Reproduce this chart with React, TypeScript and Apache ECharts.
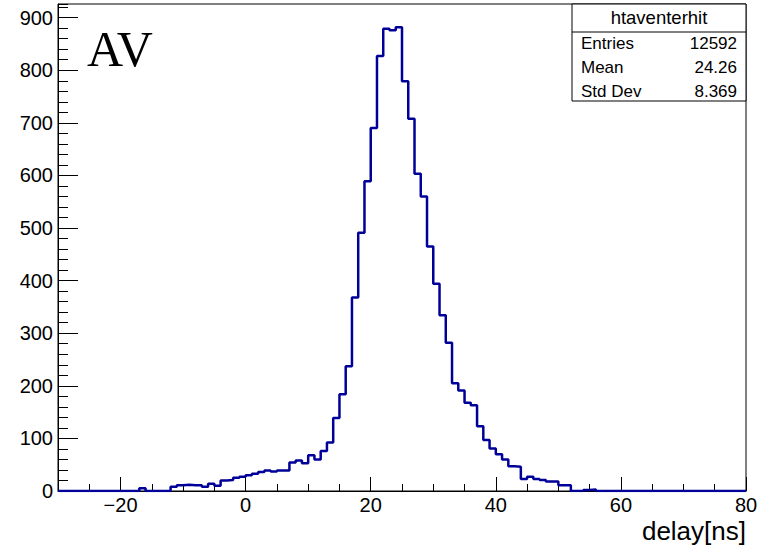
import React, { useEffect, useRef } from "react";
import * as echarts from "echarts";

// Histogram definition: 110 bins of 1 ns from -30 to 80
const xMin = -30;
const xMax = 80;
const binWidth = 1;
const counts = [
  // -30 .. -21
  0, 0, 0, 0, 0, 0, 0, 0, 0, 0,
  // -20 .. -11
  0, 0, 0, 5, 0, 0, 0, 0, 8, 11,
  // -10 .. -1
  12, 11, 11, 8, 14, 10, 20, 21, 25, 27,
  // 0 .. 9
  30, 33, 36, 39, 37, 39, 39, 54, 58, 53,
  // 10 .. 19
  68, 60, 76, 92, 139, 184, 237, 368, 491, 589,
  // 20 .. 29
  690, 827, 879, 876, 882, 779, 708, 603, 560, 465,
  // 30 .. 39
  394, 334, 282, 205, 191, 168, 163, 123, 97, 81,
  // 40 .. 49
  70, 60, 47, 46, 23, 27, 23, 21, 18, 18,
  // 50 .. 59
  11, 11, 0, 0, 2, 3, 0, 0, 0, 0,
  // 60 .. 69
  0, 0, 0, 0, 0, 0, 0, 0, 0, 0,
  // 70 .. 79
  0, 0, 0, 0, 0, 0, 0, 0, 0, 0,
];
const yMax = 926;
const xMajorTicks = [-20, 0, 20, 40, 60, 80];
const yMajorTicks = [0, 100, 200, 300, 400, 500, 600, 700, 800, 900];
const histName = "htaventerhit";
const statLabels = ["Entries", "Mean", "Std Dev"];
const statValues = ["12592", "24.26", "8.369"];
const xTitle = "delay[ns]";
const panelLabel = "AV";

export default function App() {
  const ref = useRef<HTMLDivElement>(null);
  useEffect(() => {
    if (!ref.current) return;
    const chart = echarts.init(ref.current, null, { renderer: "svg" });
    const data: number[][] = counts.map((c, i) => [xMin + i * binWidth, c]);
    data.push([xMin + counts.length * binWidth, counts[counts.length - 1]]);
    const font = "Liberation Sans";
    const gridPos = { left: 58, right: 15, top: 4, bottom: 60 };
    const statRows: any[] = [];
    statLabels.forEach((l, i) => {
      statRows.push({
        type: "text",
        left: 581,
        top: 35 + i * 24,
        style: { text: l, fontSize: 17, fontFamily: font, fill: "#000" },
      });
      statRows.push({
        type: "text",
        right: 761 - 737,
        top: 35 + i * 24,
        style: { text: statValues[i], fontSize: 17, fontFamily: font, fill: "#000", textAlign: "right" },
      });
    });
    chart.setOption({
      animation: false,
      backgroundColor: "#fff",
      grid: [
        { ...gridPos, show: true, borderColor: "#000", borderWidth: 1, backgroundColor: "transparent" },
        { ...gridPos, show: false },
      ],
      xAxis: [
        {
          gridIndex: 0,
          type: "value",
          min: xMin,
          max: xMax,
          position: "bottom",
          axisLine: { show: true, onZero: false, lineStyle: { color: "#000", width: 1 } },
          axisTick: { show: true, inside: true, length: 14, customValues: xMajorTicks, lineStyle: { color: "#000" } },
          axisLabel: {
            customValues: xMajorTicks,
            formatter: (v: number) => (v < 0 ? "\u2212" + Math.abs(v) : String(v)),
            color: "#000",
            fontSize: 20,
            fontFamily: font,
            margin: 4,
          },
          splitLine: { show: false },
        },
        {
          gridIndex: 1,
          type: "value",
          min: xMin,
          max: xMax,
          interval: 5,
          position: "bottom",
          axisLine: { show: false, onZero: false },
          axisTick: { show: true, inside: true, length: 7, lineStyle: { color: "#000" } },
          axisLabel: { show: false },
          splitLine: { show: false },
        },
      ],
      yAxis: [
        {
          gridIndex: 0,
          type: "value",
          min: 0,
          max: yMax,
          position: "left",
          axisLine: { show: true, onZero: false, lineStyle: { color: "#000", width: 1 } },
          axisTick: { show: true, inside: true, length: 20, customValues: yMajorTicks, lineStyle: { color: "#000" } },
          axisLabel: {
            customValues: yMajorTicks,
            color: "#000",
            fontSize: 20,
            fontFamily: font,
            margin: 5,
          },
          splitLine: { show: false },
        },
        {
          gridIndex: 1,
          type: "value",
          min: 0,
          max: yMax,
          interval: 20,
          position: "left",
          axisLine: { show: false, onZero: false },
          axisTick: { show: true, inside: true, length: 10, lineStyle: { color: "#000" } },
          axisLabel: { show: false },
          splitLine: { show: false },
        },
      ],
      series: [
        {
          type: "line",
          name: histName,
          xAxisIndex: 0,
          yAxisIndex: 0,
          data,
          step: "end",
          symbol: "none",
          lineStyle: { color: "#000099", width: 2.5 },
          clip: true,
          z: 5,
        },
      ],
      graphic: [
        {
          type: "text",
          left: 87,
          top: 24,
          style: { text: panelLabel, fontSize: 50, fontFamily: "Liberation Serif", fill: "#000" },
          z: 10,
        },
        {
          type: "rect",
          shape: { x: 572, y: 4, width: 174, height: 97 },
          style: { fill: "#fff", stroke: "#000", lineWidth: 1 },
          z: 10,
        },
        {
          type: "line",
          shape: { x1: 572, y1: 32, x2: 746, y2: 32 },
          style: { stroke: "#000", lineWidth: 1 },
          z: 11,
        },
        {
          type: "text",
          x: 659,
          y: 8,
          style: { text: histName, fontSize: 18.5, fontFamily: font, fill: "#000", textAlign: "center" },
          z: 11,
        },
        ...statRows.map((r) => ({ ...r, z: 11 })),
        {
          type: "text",
          right: 15,
          top: 518,
          style: { text: xTitle, fontSize: 26, fontFamily: font, fill: "#000", textAlign: "right" },
          z: 10,
        },
      ],
    });
    return () => chart.dispose();
  }, []);
  return <div ref={ref} style={{ position: "absolute", left: 0, top: 0, width: 761, height: 551 }} />;
}
